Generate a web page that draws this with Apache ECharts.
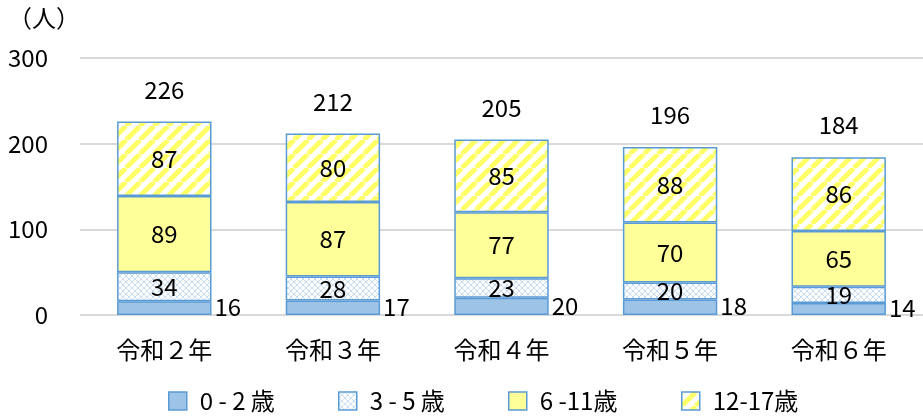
<!DOCTYPE html>
<html><head><meta charset="utf-8">
<script src="https://cdn.jsdelivr.net/npm/echarts@6/dist/echarts.min.js"></script>
<style>html,body{margin:0;padding:0;background:#fff}#c{width:923px;height:416px}</style>
</head><body><div id="c"></div>
<script>
const categories = ['令和２年', '令和３年', '令和４年', '令和５年', '令和６年'];
const seriesNames = ['0 - 2 歳', '3 - 5 歳', '6 -11歳', '12-17歳'];
const age0to2 = [16, 17, 20, 18, 14];
const age3to5 = [34, 28, 23, 20, 19];
const age6to11 = [89, 87, 77, 70, 65];
const age12to17 = [87, 80, 85, 88, 86];
const yTicks = [0, 100, 200, 300];

const totals = categories.map((_, i) => age0to2[i] + age3to5[i] + age6to11[i] + age12to17[i]);

function crossPattern() {
  const c = document.createElement('canvas'); c.width = 6; c.height = 6;
  const g = c.getContext('2d');
  g.fillStyle = '#ffffff'; g.fillRect(0, 0, 6, 6);
  g.strokeStyle = '#c6dcf2'; g.lineWidth = 1;
  g.beginPath(); g.moveTo(0, 0); g.lineTo(6, 6); g.moveTo(6, 0); g.lineTo(0, 6); g.stroke();
  return c;
}
function stripePattern() {
  const s = 14;
  const c = document.createElement('canvas'); c.width = s; c.height = s;
  const g = c.getContext('2d');
  g.fillStyle = '#ffffff'; g.fillRect(0, 0, s, s);
  g.strokeStyle = '#ffff66'; g.lineWidth = 5;
  g.beginPath();
  for (let k = -1; k <= 1; k++) { g.moveTo(k * s, s); g.lineTo(k * s + s, 0); }
  g.stroke();
  return c;
}
const border = '#5b9bd5';
const font = '"Noto Sans CJK JP", "Noto Sans", sans-serif';
const FS = 24;
const lbl = { show: true, position: 'inside', color: '#000', fontSize: FS, fontFamily: font };
const legendLefts = [163, 333, 503, 676];

const chart = echarts.init(document.getElementById('c'));
chart.setOption({
  animation: false,
  textStyle: { fontFamily: font },
  grid: { left: 80, right: 0, top: 58, bottom: 101 },
  graphic: [{ type: 'text', left: 8, top: 6, style: { text: '（人）', font: FS + 'px ' + font, fill: '#000' } }],
  legend: seriesNames.map((n, i) => ({
    bottom: -2, left: legendLefts[i], itemWidth: 18, itemHeight: 18, icon: 'rect',
    data: [n],
    textStyle: { fontSize: FS, color: '#000', fontFamily: font, padding: [0, 0, 0, 8] },
    itemStyle: { borderColor: border, borderWidth: 1.5 }
  })),
  xAxis: {
    type: 'category', data: categories,
    axisLine: { show: false }, axisTick: { show: false },
    axisLabel: { fontSize: FS, color: '#000', margin: 23 }
  },
  yAxis: {
    type: 'value', min: 0, max: 300, interval: 100,
    axisLabel: { fontSize: FS, color: '#000', margin: 32, formatter: v => yTicks.includes(v) ? String(v) : '' },
    splitLine: { lineStyle: { color: '#d9d9d9', width: 2 } }
  },
  series: [
    { name: seriesNames[0], type: 'bar', stack: 't', barWidth: '56%', data: age0to2,
      itemStyle: { color: '#9dc3e6', borderColor: border, borderWidth: 1.5 },
      label: Object.assign({}, lbl, { position: 'right', distance: 3, offset: [0, -1] }) },
    { name: seriesNames[1], type: 'bar', stack: 't', data: age3to5,
      itemStyle: { color: { image: crossPattern(), repeat: 'repeat' }, borderColor: border, borderWidth: 1.5 },
      label: lbl },
    { name: seriesNames[2], type: 'bar', stack: 't', data: age6to11,
      itemStyle: { color: '#ffff99', borderColor: border, borderWidth: 1.5 },
      label: lbl },
    { name: seriesNames[3], type: 'bar', stack: 't', data: age12to17,
      itemStyle: { color: { image: stripePattern(), repeat: 'repeat' }, borderColor: border, borderWidth: 1.5 },
      label: lbl },
    { name: 'total', type: 'bar', stack: 't', data: totals.map(() => 0), silent: true,
      itemStyle: { color: 'rgba(0,0,0,0)', borderWidth: 0 },
      label: { show: true, position: 'top', distance: 20, color: '#000', fontSize: FS, fontFamily: font,
        formatter: p => String(totals[p.dataIndex]) } }
  ]
});
</script></body></html>
